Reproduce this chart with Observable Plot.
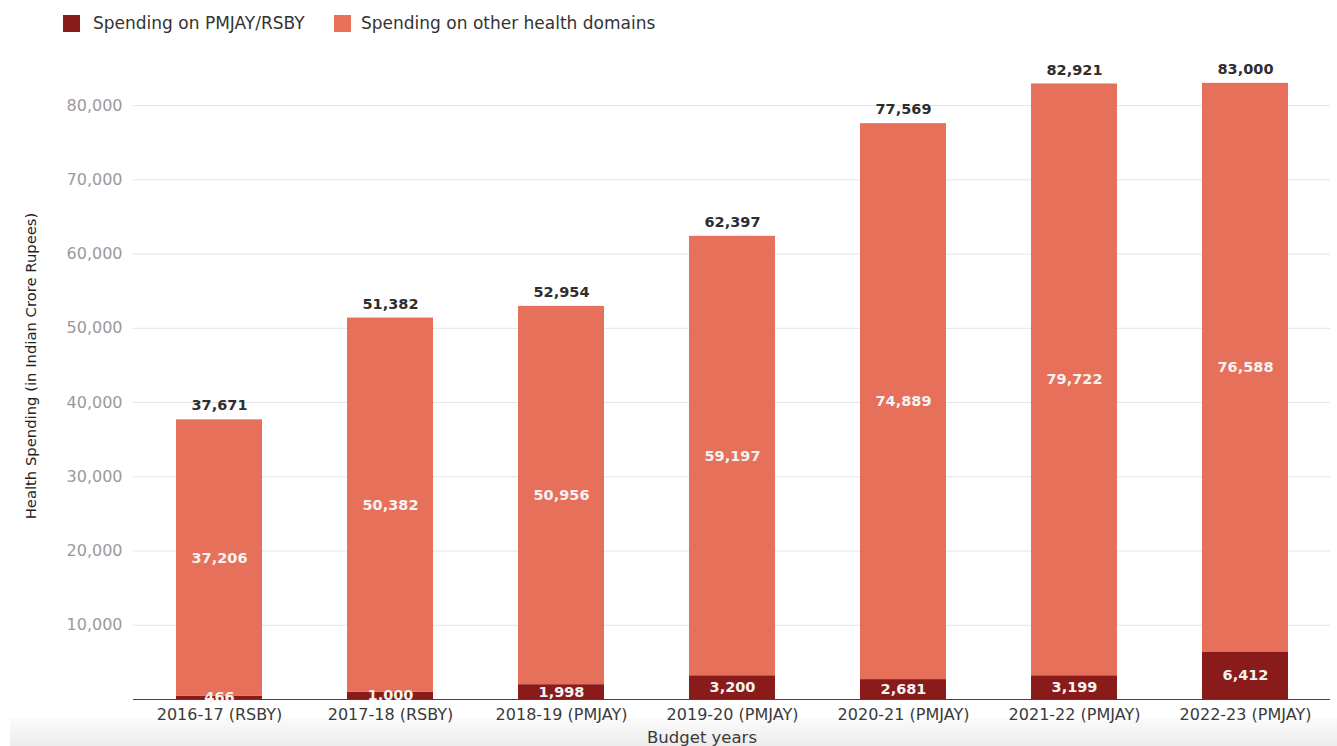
<!DOCTYPE html>
<html>
<head>
<meta charset="utf-8">
<script src="https://cdn.jsdelivr.net/npm/d3@7"></script>
<script src="https://cdn.jsdelivr.net/npm/@observablehq/plot@0.6"></script>
<style>
  html, body { margin: 0; padding: 0; background: #fff; width: 1337px; height: 746px; overflow: hidden; }
  #wrap { position: relative; width: 1337px; height: 746px; }
  #band { position: absolute; left: 10px; top: 718px; width: 1327px; height: 28px;
          background: linear-gradient(#fbfbfb, #ececec); }
  #legend { position: absolute; left: 0; top: 0; height: 40px; width: 1337px;
            font-family: "DejaVu Sans", sans-serif; font-size: 17px; color: #333; }
  .sw { position: absolute; top: 15px; width: 17px; height: 17px; }
  .lt { position: absolute; top: 13px; white-space: nowrap; }
  #chart { position: absolute; left: 0; top: 40px; }
  #chart g[aria-label="y-axis tick label"] { fill: #9a9a9a; }
  #chart g[aria-label="x-axis tick label"] { fill: #3a3a3a; }
</style>
</head>
<body>
<div id="wrap">
  <div id="band"></div>
  <div id="legend"></div>
  <div id="chart"></div>
</div>
<script>
const categories = ["2016-17 (RSBY)", "2017-18 (RSBY)", "2018-19 (PMJAY)", "2019-20 (PMJAY)", "2020-21 (PMJAY)", "2021-22 (PMJAY)", "2022-23 (PMJAY)"];
const pmjay = [466, 1000, 1998, 3200, 2681, 3199, 6412];
const other = [37206, 50382, 50956, 59197, 74889, 79722, 76588];
const totals = [37671, 51382, 52954, 62397, 77569, 82921, 83000];
const seriesNames = ["Spending on PMJAY/RSBY", "Spending on other health domains"];
const seriesColors = ["#891b1b", "#e7705a"];
const yTicks = [10000, 20000, 30000, 40000, 50000, 60000, 70000, 80000];

const rows = [];
categories.forEach((c, i) => {
  rows.push({cat: c, series: seriesNames[0], value: pmjay[i]});
  rows.push({cat: c, series: seriesNames[1], value: other[i]});
});
const totalRows = categories.map((c, i) => ({cat: c, total: totals[i]}));
const fmt = d3.format(",");

// legend
const legend = document.getElementById("legend");
const legPos = [[63, 93], [334, 361]];
seriesNames.forEach((s, i) => {
  const sw = document.createElement("div");
  sw.className = "sw"; sw.style.left = legPos[i][0] + "px"; sw.style.background = seriesColors[i];
  legend.appendChild(sw);
  const t = document.createElement("div");
  t.className = "lt"; t.style.left = legPos[i][1] + "px"; t.textContent = s;
  legend.appendChild(t);
});

const chart = Plot.plot({
  width: 1337,
  height: 706,
  marginTop: 28,
  marginBottom: 47,
  marginLeft: 133,
  marginRight: 7,
  style: {fontFamily: "DejaVu Sans, sans-serif", fontSize: "15px", background: "transparent", color: "#333"},
  x: {domain: categories, paddingInner: 0.5, paddingOuter: 0.235, label: null},
  y: {domain: [0, 85000], label: null},
  color: {domain: seriesNames, range: seriesColors},
  marks: [
    Plot.gridY(yTicks, {stroke: "#e4e4e4", strokeOpacity: 1}),
    Plot.barY(rows, {x: "cat", y: "value", fill: "series", z: "series"}),
    Plot.ruleY([0], {stroke: "#444", strokeWidth: 1.2}),
    Plot.axisY({ticks: yTicks, tickSize: 0, tickPadding: 11, tickFormat: fmt, label: null, fontSize: 16}),
    Plot.axisX({tickSize: 0, tickPadding: 9, label: null, fontSize: 16}),
    Plot.text(rows, Plot.stackY({x: "cat", y: "value", z: "series", text: d => fmt(d.value),
      fill: "#f3f3f3", fontWeight: "bold", fontSize: 14.5})),
    Plot.text(totalRows, {x: "cat", y: "total", text: d => fmt(d.total), dy: -14,
      fill: "#2e2e2e", fontWeight: "bold", fontSize: 14.5}),
    Plot.text(["Health Spending (in Indian Crore Rupees)"], {frameAnchor: "left", textAnchor: "middle",
      dx: -102, dy: -18, rotate: -90, fontSize: 14.8, fill: "#222"}),
    Plot.text(["Budget years"], {frameAnchor: "bottom", dx: -30, dy: 43, fontSize: 16.5, fill: "#3a3a3a"})
  ]
});
document.getElementById("chart").appendChild(chart);
</script>
</body>
</html>
